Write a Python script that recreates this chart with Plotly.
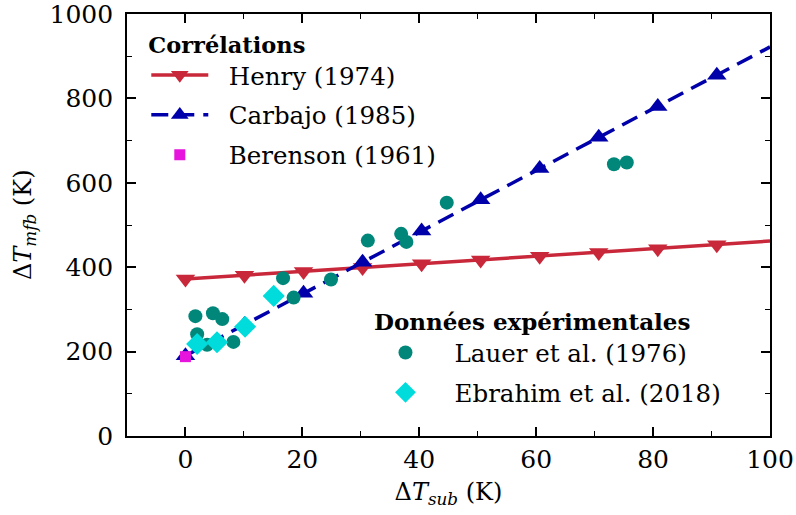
import plotly.graph_objects as go

# --- data ---
henry_x = [0, 10.1, 20.2, 30.3, 40.4, 50.5, 60.6, 70.7, 80.8, 90.9, 100]
henry_y = [372, 381, 390, 399, 408, 417, 426, 435, 444, 453, 462]

carbajo_x = [0, 10.1, 20.2, 30.3, 40.4, 50.5, 60.6, 70.7, 80.8, 90.9, 100]
carbajo_y = [190, 264, 338, 412, 486, 560, 634, 708, 781, 855, 922]

berenson_x = [0]
berenson_y = [188]

lauer_x = [1.7, 4.7, 6.3, 2.0, 3.7, 8.2, 16.7, 18.5, 24.9, 31.2, 36.9, 37.8, 44.7, 73.3, 75.5]
lauer_y = [284, 291, 277, 241, 216, 223, 374, 328, 371, 463, 479, 460, 553, 644, 648]

ebrahim_x = [2.0, 5.4, 10.2, 15.1]
ebrahim_y = [218, 222, 259, 332]

x_ticks = [0, 20, 40, 60, 80, 100]
y_ticks = [0, 200, 400, 600, 800, 1000]

FONT = "DejaVu Serif"
RED = "#c8283a"
BLUE = "#0000aa"
MAG = "#e614dc"
TEAL = "#00877a"
CYAN = "#00dcdc"
PAD = "\u00a0\u00a0"

fig = go.Figure()

fig.add_trace(go.Scatter(
    x=henry_x, y=henry_y, mode="lines+markers", name=PAD + "Henry (1974)",
    line=dict(color=RED, width=3.5),
    marker=dict(symbol="triangle-down", size=[17] * 10 + [0], color=RED,
                opacity=1, line=dict(width=0)),
    legend="legend", legendgroup="h"))
fig.add_trace(go.Scatter(
    x=carbajo_x, y=carbajo_y, mode="lines+markers", name=PAD + "Carbajo (1985)",
    line=dict(color=BLUE, width=3.5, dash="17px,9px"),
    marker=dict(symbol="triangle-up", size=[17] * 10 + [0], color=BLUE,
                opacity=1, line=dict(width=0)),
    legend="legend", legendgroup="c"))
fig.add_trace(go.Scatter(
    x=berenson_x, y=berenson_y, mode="markers", name=PAD + "Berenson (1961)",
    marker=dict(symbol="square", size=11, color=MAG),
    legend="legend", legendgroup="b"))
fig.add_trace(go.Scatter(
    x=lauer_x, y=lauer_y, mode="markers", name=PAD + "Lauer et al. (1976)",
    marker=dict(symbol="circle", size=14, color=TEAL),
    legend="legend2", legendgroup="l"))
fig.add_trace(go.Scatter(
    x=ebrahim_x, y=ebrahim_y, mode="markers", name=PAD + "Ebrahim et al. (2018)",
    marker=dict(symbol="diamond", size=17, color=CYAN),
    legend="legend2", legendgroup="e"))

axis_common = dict(
    showline=True, linecolor="black", linewidth=1.6, mirror="ticks",
    ticks="inside", ticklen=9, tickwidth=1.5, tickcolor="black",
    showgrid=False, zeroline=False, automargin=False,
    ticklabeloverflow="allow",
    tickfont=dict(family=FONT, size=25, color="black"),
)

fig.update_xaxes(
    range=[-10, 100], tickvals=x_ticks, ticklabelstandoff=0,
    minor=dict(dtick=10, ticks="inside", ticklen=5, tickwidth=1.2, tickcolor="black", showgrid=False),
    title=dict(text="Δ<i>T</i><sub><i>sub</i></sub> (K)", font=dict(family=FONT, size=24, color="black"), standoff=10),
    **axis_common)
fig.update_yaxes(
    range=[0, 1000], tickvals=y_ticks, ticklabelstandoff=7,
    minor=dict(dtick=100, ticks="inside", ticklen=5, tickwidth=1.2, tickcolor="black", showgrid=False),
    **axis_common)

fig.add_annotation(
    text="Δ<i>T</i><sub><i>mfb</i></sub> (K)", textangle=-90,
    xref="paper", yref="paper", x=0, y=0.5, xanchor="center", yanchor="middle",
    xshift=-103, showarrow=False,
    font=dict(family=FONT, size=24, color="black"),
)

leg_common = dict(
    font=dict(family=FONT, size=24.5, color="black"),
    bgcolor="rgba(255,255,255,0)", borderwidth=0,
    tracegroupgap=5, itemwidth=57,
    xanchor="left", yanchor="top",
)

fig.update_layout(
    width=796, height=515,
    margin=dict(l=127, r=26, t=14, b=79),
    plot_bgcolor="white", paper_bgcolor="white",
    font=dict(family=FONT, size=24, color="black"),
    showlegend=True,
    legend=dict(
        x=0.03, y=0.978,
        title=dict(text="<b>Corrélations</b>", font=dict(family=FONT, size=22.5, color="black")),
        **leg_common),
    legend2=dict(
        x=0.381, y=0.322,
        title=dict(text="<b>Données expérimentales</b>", font=dict(family=FONT, size=23, color="black")),
        **leg_common),
)

fig.write_html(
    "out.html",
    config={"displayModeBar": False},
    post_script="document.body.style.margin='0';document.body.style.overflow='hidden';",
)
